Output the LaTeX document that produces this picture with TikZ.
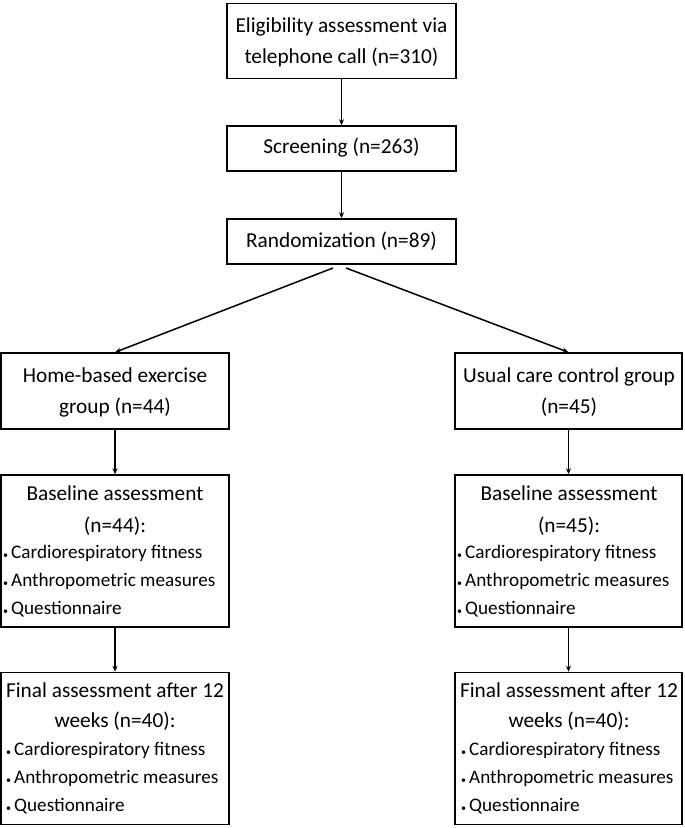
\documentclass[tikz,border=0pt]{standalone}
\usepackage{fontspec}
\setmainfont{Carlito}
\usetikzlibrary{arrows.meta}
\begin{document}
\begin{tikzpicture}[x=1pt,y=-1pt,
  box/.style={draw, line width=1.5pt, inner sep=0pt, minimum width=#1},
  txt/.style={inner sep=0pt, anchor=mid, yshift=-3.5pt, font=\fontsize{21.3}{21.3}\selectfont},
  btxt/.style={inner sep=0pt, anchor=mid west, yshift=-1.5pt, font=\fontsize{19.2}{19.2}\selectfont},
  arr/.style={line width=1.5pt, -{Stealth[length=6pt,width=5pt]}}]
\useasboundingbox (0,0) rectangle (685,828);
\newcommand{\bul}{\makebox[8pt][l]{\fontsize{10}{10}\selectfont•}}
% boxes
\node[box=229pt, minimum height=75pt] (elig) at (341.5,41) {};
\node[box=229pt, minimum height=45pt] (scr) at (341.5,148.5) {};
\node[box=229pt, minimum height=45pt] (rand) at (341.5,241.5) {};
\node[box=228pt, minimum height=76pt] (home) at (115,391) {};
\node[box=227pt, minimum height=76pt] (usual) at (568.5,391) {};
\node[box=228pt, minimum height=152pt] (baseL) at (115,551) {};
\node[box=227pt, minimum height=152pt] (baseR) at (568.5,551) {};
\node[box=228pt, minimum height=152pt] (finL) at (115,748.5) {};
\node[box=227pt, minimum height=152pt] (finR) at (568.5,748.5) {};
% texts
\node[txt] (t1) at (341.5,27) {Eligibility assessment via};
\node[txt] (t2) at (341.5,58) {telephone call (n=310)};
\node[txt] (t3) at (341.5,148) {Screening (n=263)};
\node[txt] (t4) at (341.5,242) {Randomization (n=89)};
\node[txt] (t5) at (115,377) {Home-based exercise};
\node[txt] (t6) at (115,408) {group (n=44)};
\node[txt] (t7) at (569,377) {Usual care control group};
\node[txt] (t8) at (569,408) {(n=45)};
\node[txt] (t9) at (115,495) {Baseline assessment};
\node[txt] (t10) at (115,527) {(n=44):};
\node[btxt] (t11) at (3,555) {\bul Cardiorespiratory fitness};
\node[btxt] (t12) at (3,583) {\bul Anthropometric measures};
\node[btxt] (t13) at (3,611) {\bul Questionnaire};
\node[txt] (t14) at (569,495) {Baseline assessment};
\node[txt] (t15) at (569,527) {(n=45):};
\node[btxt] (t16) at (457,555) {\bul Cardiorespiratory fitness};
\node[btxt] (t17) at (457,583) {\bul Anthropometric measures};
\node[btxt] (t18) at (457,611) {\bul Questionnaire};
\node[txt] (t19) at (115,692) {Final assessment after 12};
\node[txt] (t20) at (115,722) {weeks (n=40):};
\node[btxt] (t21) at (6,752) {\bul Cardiorespiratory fitness};
\node[btxt] (t22) at (6,780) {\bul Anthropometric measures};
\node[btxt] (t23) at (6,808) {\bul Questionnaire};
\node[txt] (t24) at (569,692) {Final assessment after 12};
\node[txt] (t25) at (569,722) {weeks (n=40):};
\node[btxt] (t26) at (461,752) {\bul Cardiorespiratory fitness};
\node[btxt] (t27) at (461,780) {\bul Anthropometric measures};
\node[btxt] (t28) at (461,808) {\bul Questionnaire};
% connectors
\coordinate (rl) at (333,268);
\coordinate (rr) at (346,268);
\draw[arr] (elig.south) -- (scr.north);
\draw[arr] (scr.south) -- (rand.north);
\draw[arr] (rl) -- (home.north);
\draw[arr] (rr) -- (usual.north);
\draw[arr] (home.south) -- (baseL.north);
\draw[arr] (usual.south) -- (baseR.north);
\draw[arr] (baseL.south) -- (finL.north);
\draw[arr] (baseR.south) -- (finR.north);
\end{tikzpicture}
\end{document}
